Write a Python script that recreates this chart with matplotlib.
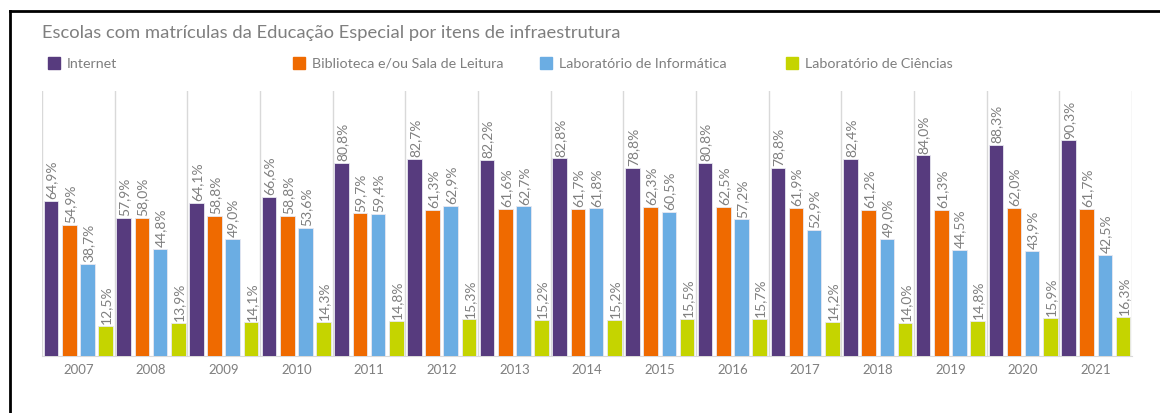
import matplotlib.pyplot as plt
import matplotlib.patches as mpatches
from matplotlib.lines import Line2D
import numpy as np

plt.rcParams['font.family'] = ['Lato', 'DejaVu Sans']

anos = ['2007', '2008', '2009', '2010', '2011', '2012', '2013', '2014',
        '2015', '2016', '2017', '2018', '2019', '2020', '2021']
internet = [64.9, 57.9, 64.1, 66.6, 80.8, 82.7, 82.2, 82.8, 78.8, 80.8, 78.8, 82.4, 84.0, 88.3, 90.3]
biblioteca = [54.9, 58.0, 58.8, 58.8, 59.7, 61.3, 61.6, 61.7, 62.3, 62.5, 61.9, 61.2, 61.3, 62.0, 61.7]
informatica = [38.7, 44.8, 49.0, 53.6, 59.4, 62.9, 62.7, 61.8, 60.5, 57.2, 52.9, 49.0, 44.5, 43.9, 42.5]
ciencias = [12.5, 13.9, 14.1, 14.3, 14.8, 15.3, 15.2, 15.2, 15.5, 15.7, 14.2, 14.0, 14.8, 15.9, 16.3]

series = [
    ('Internet', internet, '#573B7E'),
    ('Biblioteca e/ou Sala de Leitura', biblioteca, '#EF6A00'),
    ('Laboratório de Informática', informatica, '#6BADE3'),
    ('Laboratório de Ciências', ciencias, '#C5D400'),
]

cinza = '#7F7F7F'

fig = plt.figure(figsize=(11.6, 4.14), dpi=100)
ax = fig.add_axes([0.0362, 0.1377, 0.9397, 0.6401])

x = np.arange(len(anos))
largura = 0.2
offsets = [-0.375, -0.125, 0.125, 0.375]

for (nome, vals, cor), off in zip(series, offsets):
    bars = ax.bar(x + off, vals, largura, color=cor, edgecolor='#E8E8F0', linewidth=0.6, zorder=3)
    for b, v in zip(bars, vals):
        ax.annotate('{:.1f}%'.format(v).replace('.', ','),
                    (b.get_x() + b.get_width() / 2, b.get_height()),
                    xytext=(0.5, 2), textcoords='offset points',
                    rotation=90, ha='center', va='bottom',
                    fontsize=10, color=cinza)

ax.set_xlim(-0.5, len(anos) - 0.5)
ax.set_ylim(0, 111)
ax.set_xticks(x)
ax.set_xticklabels(anos, fontsize=9.5, color=cinza)
ax.tick_params(axis='x', length=0, pad=5)
ax.set_yticks([])
for s in ['top', 'right', 'left']:
    ax.spines[s].set_visible(False)
ax.spines['bottom'].set_color('#D9D9D9')

# linhas verticais entre os grupos
for g in np.arange(-0.5, len(anos), 1.0):
    ax.axvline(g, color='#D9D9D9', linewidth=1, zorder=1)

fig.text(42 / 1160, 1 - 33 / 414, 'Escolas com matrículas da Educação Especial por itens de infraestrutura',
         fontsize=13.2, color=cinza, va='center', ha='left')

# legenda manual
leg_x = [48, 293, 540, 786]
for (nome, vals, cor), lx in zip(series, leg_x):
    fig.patches.append(mpatches.Rectangle((lx / 1160, 1 - 70 / 414), 12 / 1160, 12 / 414,
                                          transform=fig.transFigure, color=cor, figure=fig))
    fig.text((lx + 19) / 1160, 1 - 64 / 414, nome, fontsize=10.3, color=cinza, va='center', ha='left')

# moldura preta
fig.add_artist(Line2D([10 / 1160, 10 / 1160], [0, 1 - 12 / 414], color='black', linewidth=2,
                      transform=fig.transFigure))
fig.add_artist(Line2D([10 / 1160, 1], [1 - 12 / 414, 1 - 12 / 414], color='black', linewidth=2,
                      transform=fig.transFigure))

plt.savefig('out.png', dpi=100)
